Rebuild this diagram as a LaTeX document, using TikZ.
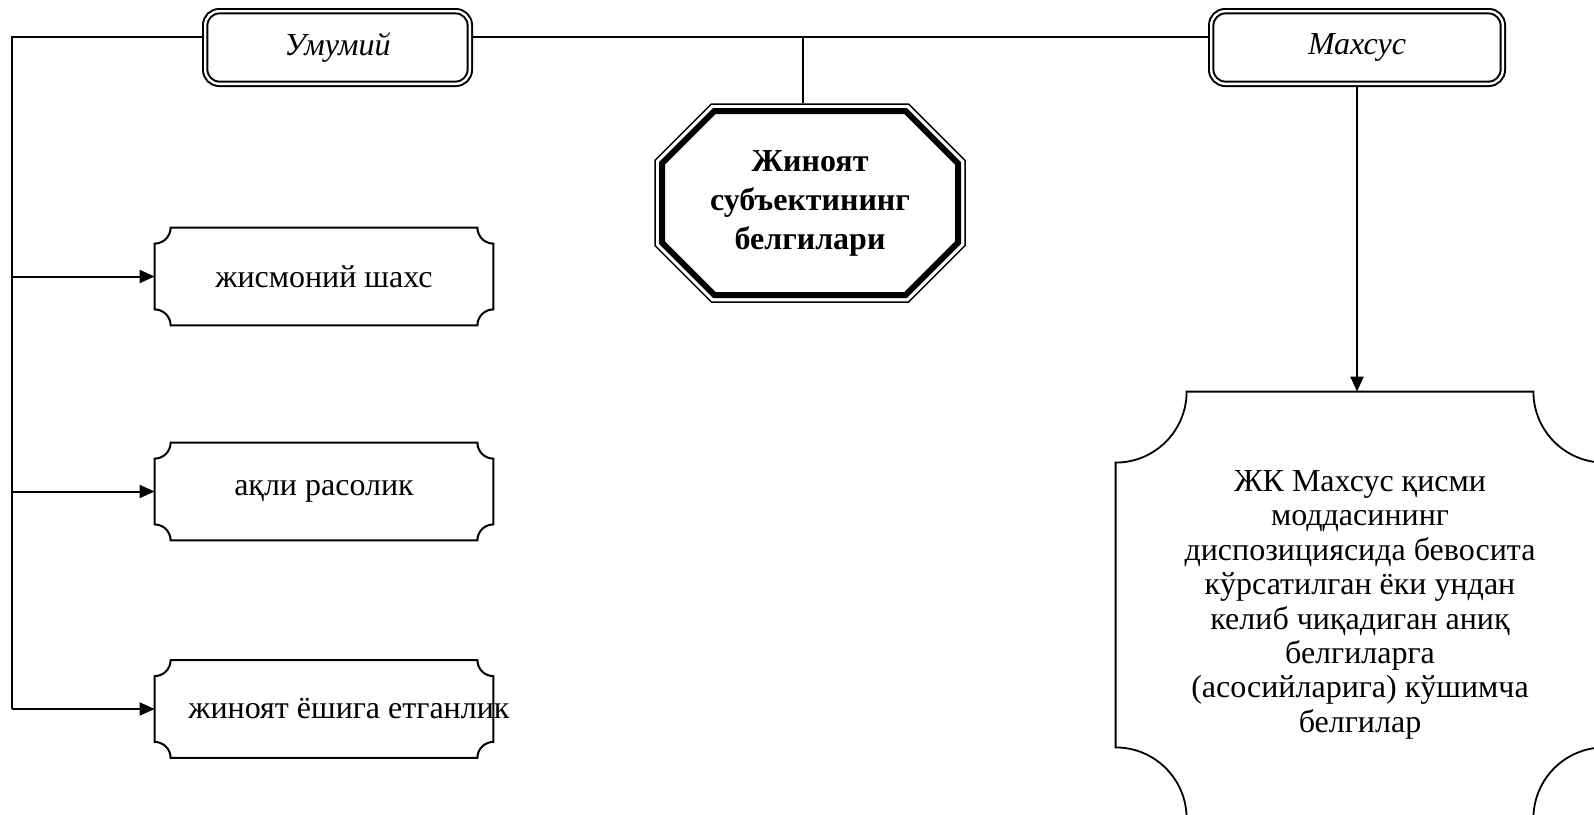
\documentclass[tikz,border=0pt]{standalone}
\usepackage{fontspec}
\setmainfont{Liberation Serif}
\usetikzlibrary{arrows.meta,backgrounds,calc}
\newcommand{\drawplaque}[3][]{%
  \draw[#1] ([yshift=-#3]#2.north west) arc[start angle=270,end angle=360,radius=#3]
    -- ([xshift=-#3]#2.north east) arc[start angle=180,end angle=270,radius=#3]
    -- ([yshift=#3]#2.south east) arc[start angle=90,end angle=180,radius=#3]
    -- ([xshift=#3]#2.south west) arc[start angle=0,end angle=90,radius=#3]
    -- cycle;}
\begin{document}
\begin{tikzpicture}[x=0.5pt,y=-0.5pt,
  every node/.style={font=\fontsize{16}{18}\selectfont, inner sep=0pt},
  dbox/.style={draw, double, line width=1pt, double distance=1.2pt, rounded corners=7pt,
    minimum height=36.3pt, font=\fontsize{16}{18}\selectfont\itshape},
  pbox/.style={minimum width=169pt, minimum height=48.5pt},
  conn/.style={line width=0.8pt},
  arr/.style={line width=1pt, -{Triangle[length=7.5pt,width=6.5pt]}},
  plq/.style={line width=1pt},
  octthin/.style={line width=0.75pt},
  octthick/.style={line width=3pt},
]
\useasboundingbox (0,0) rectangle (1594,814);
\clip (0,0) rectangle (1594,814);

\node[dbox, minimum width=132.3pt] (u) at (337.5,47.5) {Умумий};
\node[dbox, minimum width=145.8pt] (m) at (1357,47.5) {Махсус};

\node[minimum width=156pt, minimum height=100pt, align=center,
  font=\fontsize{16}{19.5}\selectfont\bfseries] (oct) at (810,203)
  {Жиноят\\субъектининг\\белгилари};
\draw[octthin, shift={(oct.center)}] (-155,-42.6) -- (-98.6,-99) -- (98.6,-99) -- (155,-42.6)
  -- (155,42.6) -- (98.6,99) -- (-98.6,99) -- (-155,42.6) -- cycle;
\draw[octthick, shift={(oct.center)}] (-148,-39.7) -- (-95.7,-92) -- (95.7,-92) -- (148,-39.7)
  -- (148,39.7) -- (95.7,92) -- (-95.7,92) -- (-148,39.7) -- cycle;

\node[pbox] (b1) at (324,276.5) {жисмоний шахс};
\node[pbox] (b2) at (324,491.5) {ақли расолик};
\node[pbox] (b3) at (324,709) {\makebox[0pt][c]{\hspace{25pt}жиноят ёшига етганлик}};
\drawplaque[plq]{b1}{8pt}
\drawplaque[plq]{b2}{8pt}
\drawplaque[plq]{b3}{8pt}

\node[minimum width=244pt, minimum height=213pt,
  font=\fontsize{16}{17.2}\selectfont] (s) at (1360,605)
  {\raisebox{1.5pt}{\begin{tabular}{@{}c@{}}ЖК Махсус қисми\\моддасининг\\диспозициясида бевосита\\кўрсатилган ёки ундан\\келиб чиқадиган аниқ\\белгиларга\\(асосийларига) кўшимча\\белгилар\end{tabular}}};
\drawplaque[line width=0.9pt]{s}{35.5pt}

\coordinate (tl) at (12,37);
\coordinate (j) at (803,37);
\begin{scope}[on background layer]
\draw[conn] (tl -| u.west) -- (tl) -- (tl |- b3.west);
\draw[conn] (tl -| u.east) -- (tl -| m.west);
\draw[conn] (j) -- (j |- oct.north);
\draw[arr] (tl |- b1.west) -- (b1.west);
\draw[arr] (tl |- b2.west) -- (b2.west);
\draw[arr] (tl |- b3.west) -- (b3.west);
\draw[arr] (m.south) -- (m.south |- s.north);
\end{scope}
\end{tikzpicture}
\end{document}
